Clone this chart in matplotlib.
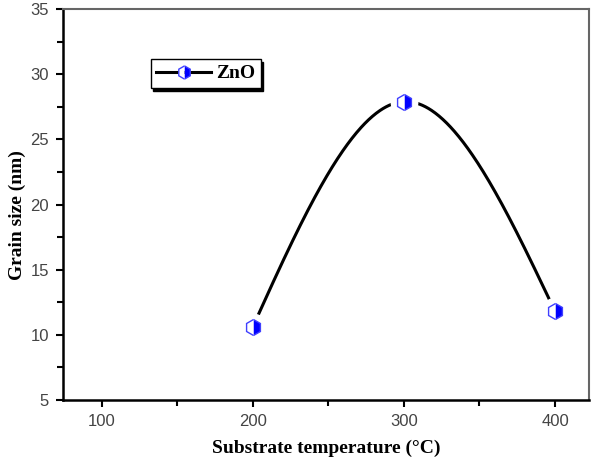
import numpy as np
import matplotlib
matplotlib.use("Agg")
import matplotlib.pyplot as plt
from matplotlib.ticker import MultipleLocator
from matplotlib.lines import Line2D

temps = [200, 300, 400]
grain = [10.6, 27.9, 11.8]
series_label = "ZnO"
xticks = [100, 200, 300, 400]
yticks = [5, 10, 15, 20, 25, 30, 35]


def natural_spline(x, y, xs):
    x = np.asarray(x, float); y = np.asarray(y, float)
    n = len(x)
    h = np.diff(x)
    A = np.zeros((n, n)); r = np.zeros(n)
    A[0, 0] = 1; A[-1, -1] = 1
    for i in range(1, n - 1):
        A[i, i - 1] = h[i - 1]; A[i, i] = 2 * (h[i - 1] + h[i]); A[i, i + 1] = h[i]
        r[i] = 6 * ((y[i + 1] - y[i]) / h[i] - (y[i] - y[i - 1]) / h[i - 1])
    M = np.linalg.solve(A, r)
    out = np.empty_like(xs)
    for k, xv in enumerate(xs):
        i = min(max(np.searchsorted(x, xv) - 1, 0), n - 2)
        a = x[i + 1] - xv; b = xv - x[i]; hi = h[i]
        out[k] = (M[i] * a**3 + M[i + 1] * b**3) / (6 * hi) \
            + (y[i] / hi - M[i] * hi / 6) * a + (y[i + 1] / hi - M[i + 1] * hi / 6) * b
    return out


fig = plt.figure(figsize=(5.98, 4.58), dpi=100)
ax = fig.add_axes([0.1054, 0.1266, 0.8796, 0.8537])

xs = np.linspace(temps[0], temps[-1], 400)
ys = natural_spline(temps, grain, xs)
ax.plot(xs, ys, color="black", lw=2.2, zorder=2, solid_capstyle="butt")
# white halo to create the gap between line and markers
ax.plot(temps, grain, ls="none", marker="o", ms=19, mfc="white", mec="white", zorder=3)
ax.plot(temps, grain, ls="none", marker="h", ms=11.5, fillstyle="right",
        mfc="#0000ff", mfcalt="white", mec="#4040ff", mew=1.0, zorder=4)

handle = Line2D([], [], color="black", lw=2.2, marker="h", ms=9.5, fillstyle="right",
                mfc="#0000ff", mfcalt="white", mec="#4040ff", mew=1.0)
leg = ax.legend([handle], [series_label], loc="upper left", bbox_to_anchor=(0.148, 0.897),
                prop={"family": "Liberation Serif", "weight": "bold", "size": 14},
                fancybox=False, shadow={"color": "black", "alpha": 1.0},
                handlelength=2.8, handletextpad=0.25, borderpad=0.3, framealpha=1)
leg.get_frame().set_edgecolor("black")
leg.get_frame().set_linewidth(1.0)

ax.set_xlim(74.5, 422.5)
ax.set_ylim(5, 35)
ax.set_xticks(xticks)
ax.set_yticks(yticks)
ax.xaxis.set_minor_locator(MultipleLocator(50))
ax.yaxis.set_minor_locator(MultipleLocator(2.5))
ax.tick_params(which="both", direction="out", top=False, right=False, width=1.5,
               colors="black", labelcolor="#444444", labelsize=12)
ax.tick_params(which="major", length=5, pad=5)
ax.tick_params(which="minor", length=4)
for lab in ax.get_xticklabels() + ax.get_yticklabels():
    lab.set_family("Liberation Sans")

for s in ["left", "bottom"]:
    ax.spines[s].set_linewidth(1.8)
    ax.spines[s].set_color("black")
for s in ["top", "right"]:
    ax.spines[s].set_linewidth(1.5)
    ax.spines[s].set_color("#666666")

ax.set_xlabel("Substrate temperature (°C)", family="Liberation Serif", weight="bold",
              fontsize=14)
ax.set_ylabel("Grain size (nm)", family="Liberation Serif", weight="bold",
              fontsize=14)
ax.xaxis.set_label_coords(0.5, -0.102)
ax.yaxis.set_label_coords(-0.07, 0.472)

fig.savefig("out.png", dpi=100)
